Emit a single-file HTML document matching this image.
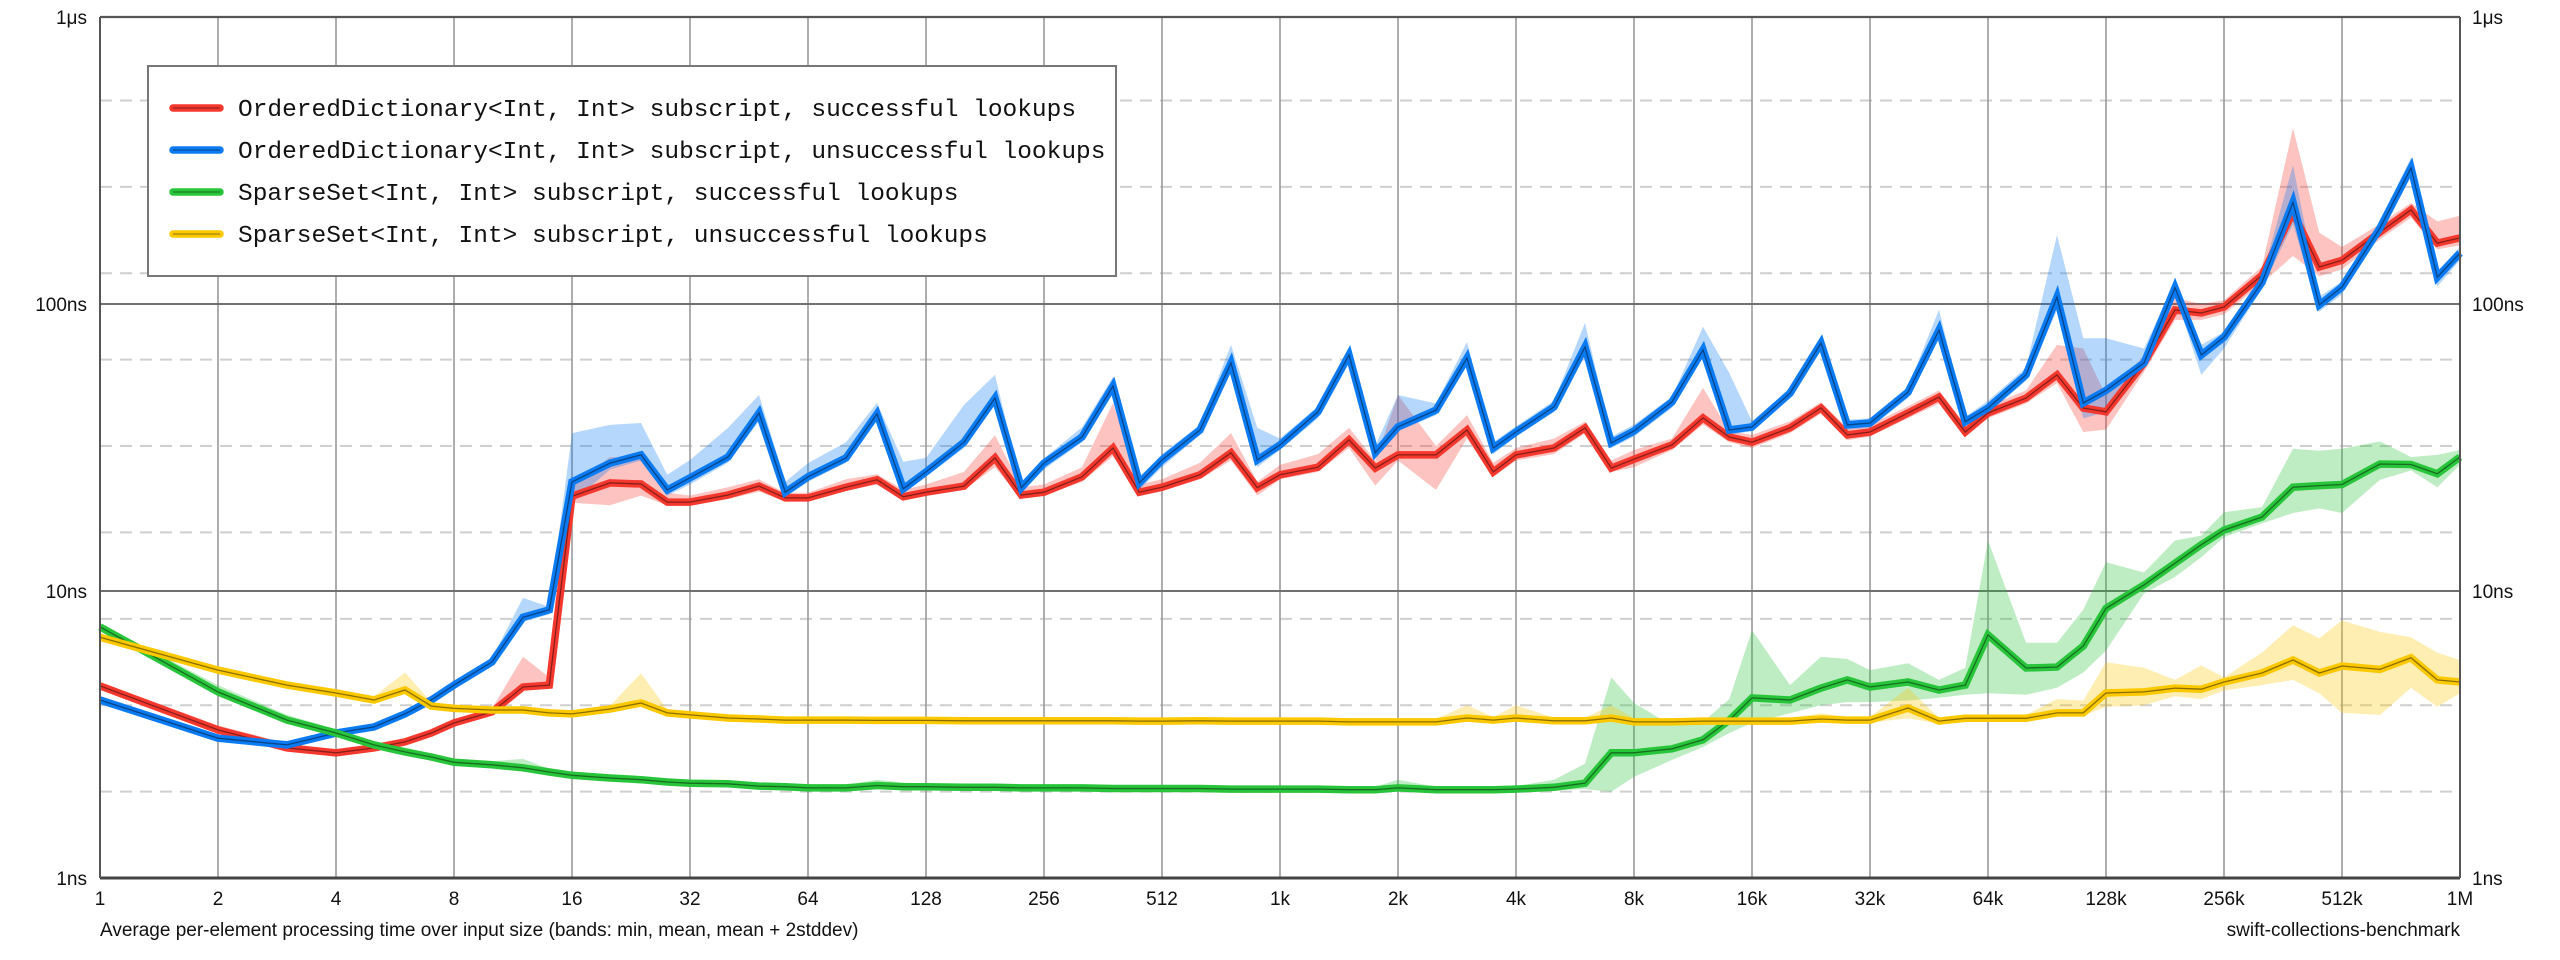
<!DOCTYPE html>
<html><head><meta charset="utf-8"><style>
html,body{margin:0;padding:0;background:#fff;}
svg{display:block;}
text{font-family:"Liberation Sans",sans-serif;fill:#111;}
.mono{font-family:"Liberation Mono",monospace;}
</style></head><body>
<svg id="chart" width="2560" height="960" viewBox="0 0 2560 960" xmlns="http://www.w3.org/2000/svg">
<g id="grid"></g>
<g id="bands"></g>
<g id="lines"></g>
<g id="frame"></g>
<g id="labels"></g>
<text x="100" y="936" font-size="19">Average per-element processing time over input size (bands: min, mean, mean + 2stddev)</text>
<text x="2460" y="936" font-size="19" text-anchor="end">swift-collections-benchmark</text>
<g id="legend">
<rect x="148" y="66" width="968" height="210" fill="#fff" stroke="#777" stroke-width="2"/>
</g>
</svg>
<script>
const sizes=[1,2,3,4,5,6,7,8,10,12,14,
16,20,24,28,32,40,48,56,64,80,96,112,128,160,192,224,256,320,384,448,512,640,768,896,1024,1280,1536,1792,2048,2560,3072,3584,4096,5120,6144,7168,8192,10240,12288,14336,16384,20480,24576,28672,32768,40960,49152,57344,65536,81920,98304,114688,131072,163840,196608,229376,262144,327680,393216,458752,524288,655360,786432,917504,1048576];
const xTicks=[1,2,4,8,16,32,64,128,256,512,1024,2048,4096,8192,16384,32768,65536,131072,262144,524288,1048576];
const xTickLabels=["1","2","4","8","16","32","64","128","256","512","1k","2k","4k","8k","16k","32k","64k","128k","256k","512k","1M"];
const yTicks=[1,10,100,1000];
const yTickLabels=["1ns","10ns","100ns","1\u03bcs"];
const yMinor=[2,4,8,16,32,64,128,256,512];
const seriesNames=["OrderedDictionary<Int, Int> subscript, successful lookups","OrderedDictionary<Int, Int> subscript, unsuccessful lookups","SparseSet<Int, Int> subscript, successful lookups","SparseSet<Int, Int> subscript, unsuccessful lookups"];

const redMean=[4.67,3.28,2.84,2.73,2.84,2.98,3.2,3.47,3.79,4.63,4.7,
21.4,23.8,23.6,20.4, 20.4,21.6,23.2,21.1, 21.1,23.0,24.4,21.3, 22.1,23.2,29.1,21.6, 22.1,25.0,31.5,22.1, 23.0,25.4,30.3,22.9, 25.4,27.0,33.6,26.8, 29.8,29.8,36.4,26.0, 29.8,31.5,37.0,26.8, 28.8,32.3,40.1,34.4, 33.0,37.0,43.4,35.0, 35.8,41.7,47.4,35.8, 41.7,47.0,56.6,43.4, 42.1,62.3,95.3,93, 97.6,126,209,134.6, 142,178,213,163, 170];
const redHi=[4.8,3.4,2.95,2.8,2.9,3.05,3.3,3.55,3.9,5.9,5.0,
23,29.3,29,22, 21.5,23,24.5,22, 22,24.5,25.5,22.5, 23.5,26,34.9,23, 23.5,27,45.2,23.5, 24.5,28,35.5,24, 27.5,30,37,28.5, 48.2,32,41,28, 31.5,34,38.9,28.5, 31,34,51,36, 35,39,45.5,37, 38,44,50,38, 44,50,72,70, 48,66,105,100, 103,135,410,177, 158,190,225,194, 203];
const redLo=[4.55,3.2,2.78,2.68,2.78,2.92,3.12,3.4,3.72,4.5,4.6,
20.3,19.9,21.5,19.9, 19.9,20.9,22.2,20.5, 20.5,22.3,23.5,20.8, 21.5,22.5,27,21, 21.5,24,29.5,21.5, 22.3,24.5,28.5,21.5, 24.5,26,31.5,23.3, 28.5,22.5,34,25, 28.5,30,35.5,26, 27,31,38,33, 31.5,35.5,41.5,33.5, 34.5,40,45,34.5, 40,45,53,35.8, 36.5,58,88,88, 92,118,147,125, 132,168,200,155, 160];

const blueMean=[4.17,3.07,2.91,3.2,3.36,3.73,4.17,4.7,5.66,8.1,8.6,
24.0,27.9,29.8,22.5, 24.8,29.3,41.7,22.1, 25.0,29.1,41.4,22.7, 26.0,33.0,47.0,22.9, 27.9,34.4,51.8,23.8, 28.6,36.4,62.3,28.6, 32.3,42.1,66.4,30.3, 37.3,42.7,64.8,31.5, 35.8,43.8,70.8,32.8, 36.1,45.6,69.2,36.4, 37.3,48.9,73.1,37.9, 38.5,49.3,81.1,38.9, 43.4,56.6,105.7,45.2, 50,62.3,114,66.4, 76.7,119,226,99.3, 114.6,184,298,124, 150.6];
const blueHi=[4.3,3.15,3.0,3.3,3.45,3.85,4.3,4.85,5.85,9.46,8.8,
35.5,37.9,38.5,25.4, 28.6,37,48.2,24, 27.9,33,45.2,28.2, 29.1,44.5,56.6,23.5, 29,37.2,55.7,25, 30,38,72,37, 34,44,70,32, 48.2,45,73.7,33, 37.5,46,85.9,34.5, 38,47.5,83.3,57.5, 39,51,76,39.5, 40,51.5,95.5,40.5, 46,60,173.9,76, 76,70,120,72, 80,125,304,106, 120,195,324,130, 158];
const blueLo=[4.05,2.98,2.82,3.1,3.26,3.62,4.05,4.55,5.5,7.8,8.3,
20.3,26.5,28.5,21.5, 23.5,28,39,21.2, 24,28,39.5,21.8, 25,31.5,44.5,22, 26.5,33,49,22.5, 27,35,59,27, 31,40,63,29, 36,41,62,30, 34.5,42,67,31.5, 34.5,43.5,66,35, 36,47,70,36.5, 37,47,77,37.5, 41.5,54,95,40, 42,59,108,56.6, 70,113,190,94, 108,175,280,115, 142];

const greenMean=[7.5,4.45,3.55,3.2,2.91,2.75,2.64,2.53,2.48,2.42,2.34,
2.28,2.23,2.2,2.16, 2.14,2.13,2.09,2.08, 2.06,2.06,2.1,2.08, 2.08,2.07,2.07,2.06, 2.06,2.06,2.05,2.05, 2.05,2.05,2.04,2.04, 2.04,2.04,2.03,2.03, 2.06,2.03,2.03,2.03, 2.04,2.07,2.14,2.73, 2.73,2.82,3.03,3.55, 4.24,4.17,4.59,4.9, 4.63,4.82,4.52,4.7, 7.03,5.39,5.43,6.43, 8.7,10.5,12.5,14.5, 16.3,18.1,23.0,23.3, 23.5,27.7,27.6,25.6, 29.3];
const greenHi=[7.7,4.7,3.7,3.3,3.0,2.85,2.72,2.6,2.55,2.6,2.4,
2.33,2.28,2.25,2.21, 2.19,2.18,2.14,2.13, 2.11,2.11,2.2,2.15, 2.13,2.12,2.12,2.11, 2.11,2.11,2.1,2.1, 2.1,2.1,2.09,2.09, 2.09,2.09,2.08,2.08, 2.2,2.08,2.08,2.08, 2.09,2.2,2.5,5.0, 4.07,3.4,3.5,4.2, 7.3,4.7,5.9,5.8, 5.3,5.6,4.9,5.4, 15,6.6,6.6,8.6, 12.6,11.6,15,15.6, 18.8,19.6,31.3,30.8, 31.3,33.2,29.3,29.8, 31];
const greenLo=[7.3,4.3,3.45,3.1,2.85,2.68,2.58,2.48,2.43,2.37,2.3,
2.24,2.19,2.16,2.12, 2.1,2.09,2.05,2.04, 2.02,2.02,2.08,2.06, 2.04,2.03,2.03,2.02, 2.02,2.02,2.01,2.01, 2.01,2.01,2.0,2.0, 2.0,2.0,1.99,1.99, 2.01,1.99,1.99,1.99, 2.0,2.02,2.04,2.0, 2.25,2.58,2.86,3.2, 3.47,3.75,4.0,4.1, 4.1,4.15,4.25,4.35, 4.4,4.35,4.6,5.2, 6.2,9.8,11.2,13.1, 15.4,17.2,18.7,19.4, 18.7,24.4,26.3,23, 27.5];

const yellowMean=[6.9,5.3,4.7,4.41,4.17,4.52,3.97,3.9,3.85,3.85,3.76,
3.73,3.88,4.07,3.76, 3.7,3.61,3.58,3.55, 3.55,3.55,3.54,3.54, 3.54,3.53,3.53,3.53, 3.53,3.53,3.53,3.52, 3.52,3.53,3.52,3.52, 3.52,3.52,3.5,3.5, 3.5,3.5,3.61,3.55, 3.61,3.53,3.53,3.61, 3.5,3.5,3.52,3.52, 3.52,3.52,3.58,3.55, 3.55,3.91,3.52,3.6, 3.6,3.6,3.76,3.76, 4.41,4.45,4.59,4.55, 4.82,5.18,5.75,5.18, 5.48,5.33,5.85,4.9, 4.82];
const yellowHi=[7.1,5.45,4.85,4.55,4.3,5.2,4.1,4.0,3.95,3.95,3.85,
3.82,3.98,5.17,3.86, 3.8,3.7,3.67,3.64, 3.64,3.64,3.63,3.63, 3.63,3.62,3.62,3.62, 3.62,3.62,3.62,3.61, 3.61,3.62,3.61,3.61, 3.61,3.61,3.59,3.59, 3.59,3.59,4.0,3.64, 4.0,3.62,3.62,4.0, 3.6,3.6,3.61,3.61, 3.61,3.61,3.75,3.64, 3.64,4.6,3.61,3.7, 3.7,3.7,4.2,4.15, 5.65,5.4,4.9,5.5, 5.0,6.1,7.6,6.85, 7.9,7.2,6.9,6.1, 5.75];
const yellowLo=[6.75,5.2,4.6,4.3,4.08,4.4,3.88,3.82,3.77,3.77,3.68,
3.65,3.8,3.98,3.68, 3.62,3.54,3.51,3.48, 3.48,3.48,3.47,3.47, 3.47,3.46,3.46,3.46, 3.46,3.46,3.46,3.45, 3.45,3.46,3.45,3.45, 3.45,3.45,3.43,3.43, 3.43,3.43,3.5,3.48, 3.5,3.46,3.46,3.5, 3.43,3.43,3.45,3.45, 3.45,3.45,3.5,3.48, 3.48,3.6,3.45,3.52, 3.52,3.52,3.65,3.68, 3.95,4.0,4.3,4.2, 4.5,4.7,4.9,4.4, 3.76,3.7,4.6,3.95, 4.4];

const NS="http://www.w3.org/2000/svg";
const X0=100, X1=2460, Y0=878, Y1=17;
function xOf(n){return X0+(X1-X0)*Math.log2(n)/20;}
function yOf(v){return Y0-(Y0-Y1)*Math.log10(v)/3;}
function mk(tag,attrs,parent){const e=document.createElementNS(NS,tag);for(const k in attrs)e.setAttribute(k,attrs[k]);parent.appendChild(e);return e;}

const grid=document.getElementById('grid');
yMinor.forEach(v=>{
  const l=mk('line',{x1:X0,x2:X1,y1:yOf(v),y2:yOf(v),stroke:'#cfcfcf','stroke-width':2,'stroke-dasharray':'12 8'},grid);
  
  
});
xTicks.forEach(t=>{
  const l=mk('line',{x1:xOf(t),x2:xOf(t),y1:Y1,y2:Y0,stroke:'#9a9a9a','stroke-width':1.6},grid);
  
  
});
yTicks.forEach(t=>{
  const l=mk('line',{x1:X0,x2:X1,y1:yOf(t),y2:yOf(t),stroke:'#707070','stroke-width':2},grid);
  
  
});

const series=[
 {key:'red',name:seriesNames[0],color:'#f5382e',mean:redMean,hi:redHi,lo:redLo},
 {key:'blue',name:seriesNames[1],color:'#0a7bf2',mean:blueMean,hi:blueHi,lo:blueLo},
 {key:'green',name:seriesNames[2],color:'#28c53a',mean:greenMean,hi:greenHi,lo:greenLo},
 {key:'yellow',name:seriesNames[3],color:'#fcc800',mean:yellowMean,hi:yellowHi,lo:yellowLo}
];
const bands=document.getElementById('bands'), lines=document.getElementById('lines');
series.forEach(s=>{
  let d='';
  sizes.forEach((n,i)=>{d+=(i?'L':'M')+xOf(n).toFixed(1)+','+yOf(s.hi[i]).toFixed(1);});
  for(let i=sizes.length-1;i>=0;i--){d+='L'+xOf(sizes[i]).toFixed(1)+','+yOf(s.lo[i]).toFixed(1);}
  d+='Z';
  const b=mk('path',{d:d,fill:s.color,'fill-opacity':0.3,stroke:'none'},bands);
  
  
});
series.forEach(s=>{
  let d='';
  sizes.forEach((n,i)=>{d+=(i?'L':'M')+xOf(n).toFixed(1)+','+yOf(s.mean[i]).toFixed(1);});
  const g=mk('g',{},lines);
  
  
  const p=mk('path',{d:d,fill:'none',stroke:s.color,'stroke-width':7.5,'stroke-linejoin':'miter','stroke-miterlimit':6},g);
  
  
  const c=mk('path',{d:d,fill:'none',stroke:'rgba(0,0,0,0.45)','stroke-width':1.3,'stroke-linejoin':'miter','stroke-miterlimit':6},g);
  
  
});

const frame=document.getElementById('frame');
[[X0,Y1,X1,Y1,2.2,'#555'],[X0,Y0,X1,Y0,3,'#444'],[X0,Y1,X0,Y0,2,'#555'],[X1,Y1,X1,Y0,2,'#555']].forEach(a=>{
  const l=mk('line',{x1:a[0],y1:a[1],x2:a[2],y2:a[3],'stroke-width':a[4],stroke:a[5]},frame);
  
  
});

const labels=document.getElementById('labels');
xTicks.forEach((t,i)=>{
  const e=mk('text',{x:xOf(t),y:905,'font-size':19,'text-anchor':'middle'},labels);
  e.textContent=xTickLabels[i];
  
  
});
yTicks.forEach((t,i)=>{
  const a=mk('text',{x:87,y:yOf(t)+7,'font-size':19,'text-anchor':'end'},labels);
  a.textContent=yTickLabels[i];
  
  
  const b=mk('text',{x:2472,y:yOf(t)+7,'font-size':19},labels);
  b.textContent=yTickLabels[i];
  
  
});

const legend=document.getElementById('legend');
series.forEach((s,i)=>{
  const y=108+i*42;
  const g=mk('g',{},legend);
  
  
  const sw=mk('line',{x1:173,x2:220,y1:y,y2:y,stroke:s.color,'stroke-width':7.5,'stroke-linecap':'round'},g);
  
  
  const sc=mk('line',{x1:173,x2:220,y1:y,y2:y,stroke:'rgba(0,0,0,0.35)','stroke-width':1.3},g);
  
  
  const t=mk('text',{x:238,y:y+8,'font-size':24.5,'class':'mono'},g);
  t.textContent=s.name;
  
  
});
</script>
</body></html>
